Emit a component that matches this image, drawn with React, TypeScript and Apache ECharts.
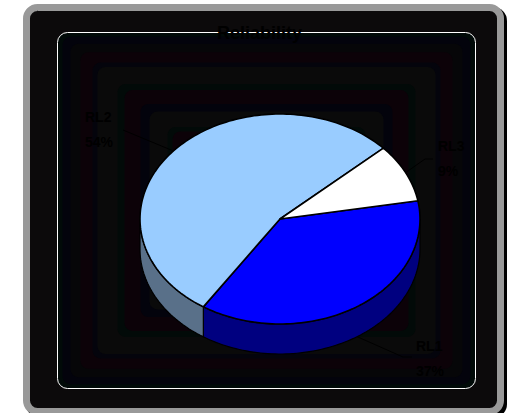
import React, { useEffect, useRef } from "react";
import * as echarts from "echarts";

// Reliability shares, clockwise from the right-hand side of the pie.
const categories = ["RL1", "RL2", "RL3"];
const shares = [37, 54, 9];
const topColors = ["#0000FF", "#99CCFF", "#FFFFFF"];
const sideColors = ["#000080", "#597089", "#999999"];
const titleText = "Reliability";

// Ellipse of the tilted pie and the height of its rim.
const CX = 280;
const CY = 219;
const RX = 140;
const RY = 105;
const DEPTH = 30;
const START_DEG = -10;

// Label anchors and leader-line elbows, in the same order as the categories.
const labelAt = [
  [416, 346],
  [85, 117],
  [438, 146],
];
const leaderBend = [
  [[403, 357], [412, 357]],
  [[123, 130]],
  [[425, 159], [433, 159]],
];

// Concentric shading of the plot panel, outermost first, with each band's inset.
const panelBands = [
  "#010A08", "#03030C", "#060608", "#0C0208", "#04040C", "#0A0A0A", "#020A08",
  "#0C0208", "#03030C", "#0A0A0A", "#020A08", "#0C0208", "#03030C", "#0A0A0A",
];
const bandInsets = [0, 5, 13, 23, 35, 40, 60, 67, 83, 92, 110, 115, 130, 145];

const total = shares.reduce((a, b) => a + b, 0);
const rad = (d: number) => (d * Math.PI) / 180;
const rimPoint = (deg: number, dy = 0) => [
  CX + RX * Math.cos(rad(deg)),
  CY + RY * Math.sin(rad(deg)) + dy,
];
const arcPoints = (from: number, to: number, dy = 0) => {
  const steps = Math.max(2, Math.ceil(Math.abs(to - from) / 1.5));
  const pts: number[][] = [];
  for (let i = 0; i <= steps; i++) pts.push(rimPoint(from + ((to - from) * i) / steps, dy));
  return pts;
};

const fontFamily = '"Liberation Sans", Arial, sans-serif';
const textFont = `bold 14px ${fontFamily}`;

function renderSlice(params: any, api: any) {
  const i = params.dataIndex;
  let before = 0;
  for (let k = 0; k < i; k++) before += shares[k];
  const a0 = START_DEG + (before / total) * 360;
  const a1 = a0 + (api.value(0) / total) * 360;
  const mid = (a0 + a1) / 2;
  const children: any[] = [];

  // Visible front part of the rim.
  const s0 = Math.max(a0, 0);
  const s1 = Math.min(a1, 180);
  if (s1 > s0) {
    children.push({
      type: "polygon",
      shape: { points: [...arcPoints(s0, s1), ...arcPoints(s1, s0, DEPTH)] },
      style: { fill: sideColors[i], stroke: "#000", lineWidth: 1.2 },
    });
  }
  children.push({
    type: "polygon",
    shape: { points: [[CX, CY], ...arcPoints(a0, a1)] },
    style: { fill: topColors[i], stroke: "#000", lineWidth: 1.6, lineJoin: "round" },
  });

  // Leader line from the slice edge towards its label.
  const onFront = mid > 0 && mid < 180;
  children.push({
    type: "polyline",
    shape: { points: [rimPoint(mid, onFront ? DEPTH : 0), ...leaderBend[i]] },
    style: { fill: "none", stroke: "#000", lineWidth: 1 },
  });

  const [lx, ly] = labelAt[i];
  children.push({
    type: "text",
    x: lx,
    y: ly,
    style: { text: categories[i], font: textFont, fill: "#000", verticalAlign: "middle" },
  });
  children.push({
    type: "text",
    x: lx,
    y: ly + 25,
    style: { text: `${api.value(0)}%`, font: textFont, fill: "#000", verticalAlign: "middle" },
  });
  return { type: "group", children };
}

function panelGraphics() {
  const x = 57.5;
  const y = 32.5;
  const w = 418;
  const h = 356;
  const els: any[] = [
    { type: "rect", z: 1, shape: { x: 26, y: 7, width: 481, height: 411, r: 14 }, style: { fill: "#000" } },
    { type: "rect", z: 2, shape: { x: 26.5, y: 7.5, width: 474, height: 404, r: 11 }, style: { fill: "#0C0A0B", stroke: "#999999", lineWidth: 7 } },
  ];
  panelBands.forEach((fill, n) => {
    const ix = bandInsets[n];
    const iy = ix * 0.86;
    els.push({
      type: "rect",
      z: 3,
      shape: { x: x + ix, y: y + iy, width: w - 2 * ix, height: h - 2 * iy, r: n === 0 ? 10 : 8 },
      style: { fill },
    });
  });
  els.push({
    type: "rect",
    z: 4,
    shape: { x, y, width: w, height: h, r: 10 },
    style: { fill: "none", stroke: "#FFFFFF", lineWidth: 1 },
  });
  return els;
}

export default function App() {
  const ref = useRef<HTMLDivElement>(null);
  useEffect(() => {
    document.body.style.margin = "0";
    document.body.style.background = "#fff";
    const chart = echarts.init(ref.current!, null, { renderer: "svg" });
    chart.setOption({
      animation: false,
      backgroundColor: "#FFFFFF",
      title: {
        text: titleText,
        left: 217,
        top: 24,
        padding: 0,
        textStyle: { color: "#000", fontFamily, fontWeight: "bold", fontSize: 18 },
      },
      graphic: { elements: panelGraphics() },
      series: [
        {
          type: "custom",
          coordinateSystem: "none",
          renderItem: renderSlice,
          data: shares.map((value, i) => ({ name: categories[i], value: [value] })),
          z: 5,
        },
      ],
    });
    return () => chart.dispose();
  }, []);
  return <div ref={ref} style={{ width: 518, height: 413 }} />;
}
